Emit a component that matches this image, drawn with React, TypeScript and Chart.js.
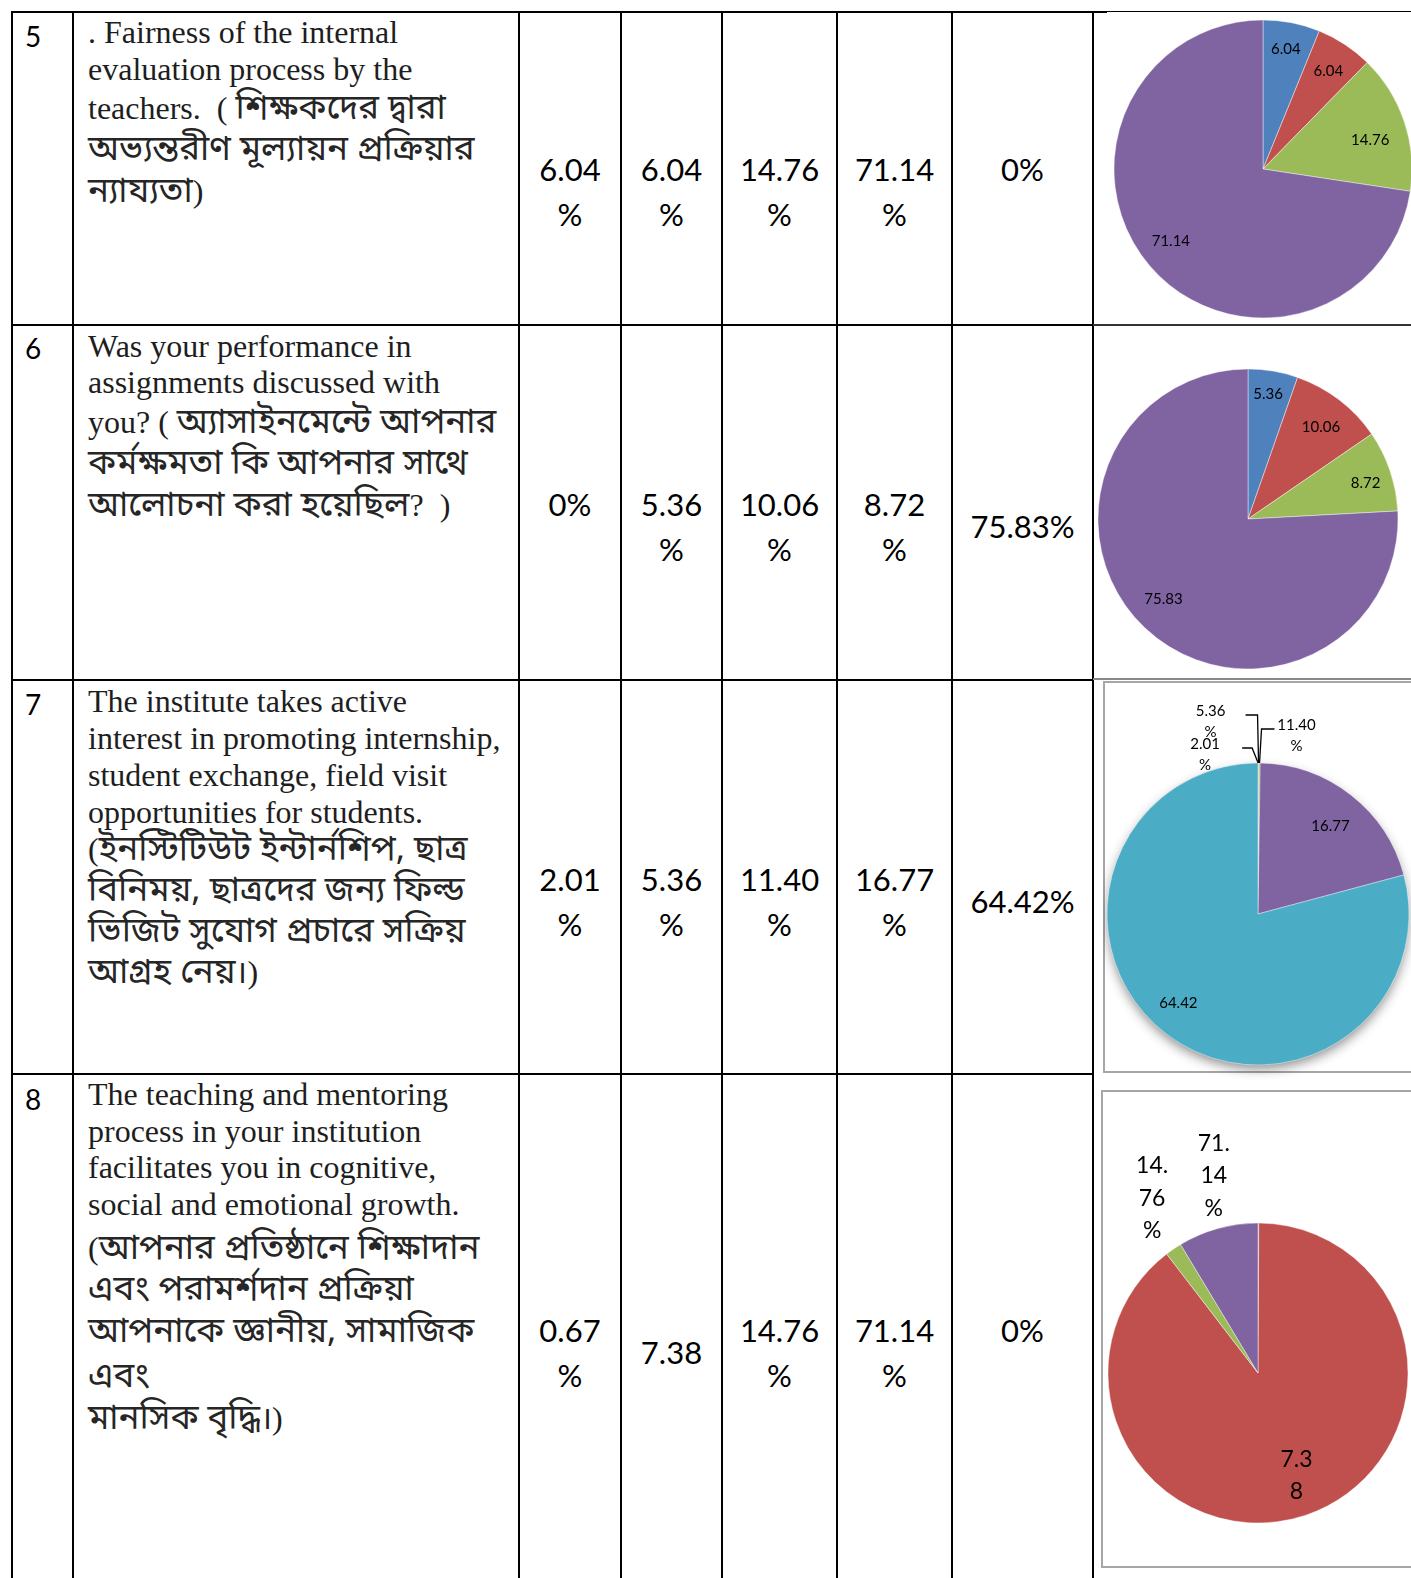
import React, { useEffect, useRef } from 'react';
import { Chart, registerables } from 'chart.js';

Chart.register(...registerables);

// ---------- DATA ----------
const rowNumbers = ['5', '6', '7', '8'];

const question5 = [
  '. Fairness of the internal',
  'evaluation process by the',
  'teachers.  ( শিক্ষকদের দ্বারা',
  'অভ্যন্তরীণ মূল্যায়ন প্রক্রিয়ার',
  'ন্যায্যতা)',
];
const question6 = [
  'Was your performance in',
  'assignments discussed with',
  'you? ( অ্যাসাইনমেন্টে আপনার',
  'কর্মক্ষমতা কি আপনার সাথে',
  'আলোচনা করা হয়েছিল?  )',
];
const question7 = [
  'The institute takes active',
  'interest in promoting internship,',
  'student exchange, field visit',
  'opportunities for students.',
  '(ইনস্টিটিউট ইন্টার্নশিপ, ছাত্র',
  'বিনিময়, ছাত্রদের জন্য ফিল্ড',
  'ভিজিট সুযোগ প্রচারে সক্রিয়',
  'আগ্রহ নেয়।)',
];
const question8 = [
  'The teaching and mentoring',
  'process in your institution',
  'facilitates you in cognitive,',
  'social and emotional growth.',
  '(আপনার প্রতিষ্ঠানে শিক্ষাদান',
  'এবং পরামর্শদান প্রক্রিয়া',
  'আপনাকে জ্ঞানীয়, সামাজিক',
  'এবং',
  'মানসিক বৃদ্ধি।)',
];

// value columns (one entry per row)
const optionA = ['6.04\n%', '0%\n ', '2.01\n%', '0.67\n%'];
const optionB = ['6.04\n%', '5.36\n%', '5.36\n%', '7.38'];
const optionC = ['14.76\n%', '10.06\n%', '11.40\n%', '14.76\n%'];
const optionD = ['71.14\n%', '8.72\n%', '16.77\n%', '71.14\n%'];
const optionE = ['0%\n ', '75.83%', '64.42%', '0%\n '];

// pie data
const pie5Values = [6.04, 6.04, 14.76, 71.14];
const pie5Labels = ['6.04', '6.04', '14.76', '71.14'];
const pie6Values = [5.36, 10.06, 8.72, 75.83];
const pie6Labels = ['5.36', '10.06', '8.72', '75.83'];
const pie7Values = [0.0201, 0.0536, 0.114, 16.77, 64.42];
const pie7Labels = ['2.01\n%', '5.36\n%', '11.40\n%', '16.77', '64.42'];
const pie8Values = [0.0067, 7.38, 0.1476, 0.7114];
const pie8Labels = ['', '7.3\n8', '14.\n76\n%', '71.\n14\n%'];

const BLUE = '#4F81BD';
const RED = '#C0504D';
const GREEN = '#9BBB59';
const PURPLE = '#8064A2';
const CYAN = '#4BACC6';

// ---------- LAYOUT ----------
const colX = [12, 73, 519, 621, 722, 837, 952, 1093];
const rowY = [12, 325, 680, 1074, 1600];
const valueCenters = [192, 527, 902, 1353];
const questionBaselines = [
  [43, 80, 119, 160, 202],
  [357, 393, 433, 474, 516],
  [712, 749, 786, 823, 860, 901, 942, 983],
  [1105, 1142, 1178, 1215, 1259, 1300, 1342, 1387, 1429],
];
const numberY = [36, 348, 704, 1099];

const BN_RE = /[\u0980-\u09FF](?:[\u0980-\u09FF\u200C\u200D,\s]*[\u0980-\u09FF])?/g;
const SERIF = '"Liberation Serif", "Times New Roman", serif';
const BENGALI = '"Noto Sans Bengali", "Noto Serif Bengali", "Lohit Bengali", "FreeSerif", sans-serif';

function splitScript(t: string) {
  const parts: { text: string; bn: boolean }[] = [];
  let last = 0;
  t.replace(BN_RE, (m: string, idx: number) => {
    if (idx > last) parts.push({ text: t.slice(last, idx), bn: false });
    parts.push({ text: m, bn: true });
    last = idx + m.length;
    return m;
  });
  if (last < t.length) parts.push({ text: t.slice(last), bn: false });
  return parts;
}

const sliceLabelPlugin = {
  id: 'sliceLabels',
  afterDatasetsDraw(chart: any, _args: any, opts: any) {
    const meta = chart.getDatasetMeta(0);
    const ctx = chart.ctx;
    const labels: string[] = opts.labels || [];
    meta.data.forEach((arc: any, i: number) => {
      const text = labels[i];
      if (!text) return;
      const p = arc.getProps(['x', 'y', 'startAngle', 'endAngle', 'outerRadius'], true);
      const mid = (p.startAngle + p.endAngle) / 2;
      const place = (opts.place && opts.place[i]) || { f: opts.factor };
      const lines = text.split('\n');
      ctx.save();
      ctx.font = opts.font;
      ctx.fillStyle = '#000';
      ctx.textAlign = 'center';
      ctx.textBaseline = 'middle';
      if (place.leader) {
        const ax = p.x + Math.cos(mid) * p.outerRadius;
        const ay = p.y + Math.sin(mid) * p.outerRadius;
        ctx.strokeStyle = '#000';
        ctx.lineWidth = 1.3;
        ctx.beginPath();
        ctx.moveTo(ax + place.hx, ay + place.hy);
        ctx.lineTo(ax + place.ex, ay + place.hy);
        ctx.lineTo(ax, ay);
        ctx.stroke();
        lines.forEach((l: string, k: number) =>
          ctx.fillText(l, ax + place.dx, ay + place.dy + k * opts.lineHeight)
        );
      } else {
        const f = place.f ?? opts.factor;
        const lx = p.x + Math.cos(mid) * p.outerRadius * f + (place.dx || 0);
        const ly = p.y + Math.sin(mid) * p.outerRadius * f + (place.dy || 0);
        const startY = ly - ((lines.length - 1) * opts.lineHeight) / 2;
        lines.forEach((l: string, k: number) => ctx.fillText(l, lx, startY + k * opts.lineHeight));
      }
      ctx.restore();
    });
  },
};

const shadowPlugin = {
  id: 'pieShadow',
  beforeDatasetsDraw(chart: any, _args: any, opts: any) {
    if (!opts || !opts.enabled) return;
    const arc = chart.getDatasetMeta(0).data[0];
    if (!arc) return;
    const p = arc.getProps(['x', 'y', 'outerRadius'], true);
    const ctx = chart.ctx;
    ctx.save();
    ctx.shadowColor = 'rgba(0,0,0,0.45)';
    ctx.shadowBlur = 12;
    ctx.shadowOffsetY = 5;
    ctx.fillStyle = opts.color;
    ctx.beginPath();
    ctx.arc(p.x, p.y, p.outerRadius - 1, 0, Math.PI * 2);
    ctx.fill();
    ctx.restore();
  },
};

type PieProps = {
  values: number[];
  colors: string[];
  labels: string[];
  cx: number;
  cy: number;
  r: number;
  w: number;
  h: number;
  font: string;
  lineHeight: number;
  factor: number;
  place?: any[];
  shadow?: string;
};

function Pie(props: PieProps) {
  const ref = useRef<HTMLCanvasElement>(null);
  useEffect(() => {
    if (!ref.current) return;
    const chart = new Chart(ref.current, {
      type: 'pie',
      data: {
        labels: props.values.map((_, i) => String(i)),
        datasets: [
          {
            data: props.values,
            backgroundColor: props.colors,
            borderColor: 'rgba(255,255,255,0.7)',
            borderWidth: 0.6,
          },
        ],
      },
      options: {
        animation: false,
        responsive: false,
        radius: props.r,
        layout: { padding: 0 },
        events: [],
        plugins: {
          legend: { display: false },
          tooltip: { enabled: false },
          sliceLabels: {
            labels: props.labels,
            font: props.font,
            lineHeight: props.lineHeight,
            factor: props.factor,
            place: props.place,
          },
          pieShadow: { enabled: !!props.shadow, color: props.shadow },
        } as any,
      } as any,
      plugins: [shadowPlugin, sliceLabelPlugin],
    });
    return () => chart.destroy();
  }, []);
  return (
    <canvas
      ref={ref}
      width={props.w}
      height={props.h}
      style={{
        position: 'absolute',
        left: props.cx - props.w / 2,
        top: props.cy - props.h / 2,
        width: props.w,
        height: props.h,
      }}
    />
  );
}

const line = (x: number, y: number, w: number, h: number, color: string, key: string) => (
  <div key={key} style={{ position: 'absolute', left: x, top: y, width: w, height: h, background: color }} />
);

export default function App() {
  useEffect(() => {
    document.body.style.overflow = 'hidden';
  }, []);

  const questions = [question5, question6, question7, question8];
  const cols = [optionA, optionB, optionC, optionD, optionE];
  const LH = 45.5;

  const els: any[] = [];
  colX.forEach((x, i) => els.push(line(x - 1, 11, 2, 1600, '#000', 'v' + i)));
  rowY.slice(0, 4).forEach((y, i) => els.push(line(11, y - 1, colX[7] - 10, 2, '#000', 'h' + i)));
  els.push(line(1093, 11, 14, 2, '#000', 'c0a'));
  els.push(line(1105, 11, 320, 1, '#000', 'c0b'));
  els.push(line(1093, 324, 320, 1.5, '#333', 'c1'));
  els.push(line(1093, 678, 320, 1.5, '#888', 'c2'));

  for (let r = 0; r < 4; r++) {
    els.push(
      <div
        key={'n' + r}
        style={{
          position: 'absolute',
          left: colX[0] + 13,
          top: numberY[r] - 18,
          fontFamily: 'Lato, "Open Sans", sans-serif',
          fontSize: 28,
          lineHeight: '36px',
          color: '#000',
        }}
      >
        {rowNumbers[r]}
      </div>
    );
    questions[r].forEach((t, k) => {
      const parts = splitScript(t);
      els.push(
        <div
          key={'q' + r + '_' + k}
          style={{
            position: 'absolute',
            left: 88,
            top: questionBaselines[r][k] - 28.8,
            height: 36,
            whiteSpace: 'pre',
            fontFamily: SERIF,
            fontSize: 32,
            lineHeight: '36px',
            color: '#1e1e1e',
          }}
        >
          {parts.map((p, j) =>
            p.bn ? (
              <span key={j} style={{ fontFamily: BENGALI, fontSize: 34.8, lineHeight: 0, color: '#262626' }}>
                {p.text}
              </span>
            ) : (
              <span key={j}>{p.text}</span>
            )
          )}
        </div>
      );
    });
    cols.forEach((col, c) => {
      const txt = col[r];
      const n = txt.split('\n').length;
      els.push(
        <div
          key={'v' + r + '_' + c}
          style={{
            position: 'absolute',
            left: colX[c + 2],
            width: colX[c + 3] - colX[c + 2],
            top: valueCenters[r] - (n * LH) / 2,
            textAlign: 'center',
            whiteSpace: 'pre',
            fontFamily: 'Lato, "Open Sans", sans-serif',
            fontSize: 31,
            lineHeight: LH + 'px',
            color: '#000',
          }}
        >
          {txt}
        </div>
      );
    });
  }

  const smallFont = '15px Lato, "Open Sans", sans-serif';

  return (
    <div
      style={{
        position: 'absolute',
        left: 0,
        top: 0,
        width: 1411,
        height: 1578,
        overflow: 'hidden',
        background: '#fff',
      }}
    >
      {els}
      <div style={{ position: 'absolute', left: 1103, top: 681, width: 320, height: 392, border: '2px solid #a6a6a6', boxSizing: 'border-box' }} />
      <div style={{ position: 'absolute', left: 1101, top: 1090, width: 320, height: 478, border: '2px solid #a6a6a6', boxSizing: 'border-box' }} />
      <Pie
        values={pie5Values}
        colors={[BLUE, RED, GREEN, PURPLE]}
        labels={pie5Labels}
        cx={1263}
        cy={169}
        r={149}
        w={338}
        h={310}
        font={smallFont}
        lineHeight={20}
        factor={0.8}
        place={[{ f: 0.8, dy: -3 }, { f: 0.8, dy: 2 }, { f: 0.78, dx: -3, dy: 8 }, { f: 0.78, dx: -4, dy: -4 }]}
      />
      <Pie
        values={pie6Values}
        colors={[BLUE, RED, GREEN, PURPLE]}
        labels={pie6Labels}
        cx={1248}
        cy={519}
        r={150}
        w={308}
        h={318}
        font={smallFont}
        lineHeight={20}
        factor={0.8}
        place={[{ f: 0.8, dy: -7 }, { f: 0.8, dy: 3 }, { f: 0.8, dx: 4, dy: 3 }, { f: 0.8, dx: -2, dy: -7 }]}
      />
      <Pie
        values={pie7Values}
        colors={[BLUE, RED, GREEN, PURPLE, CYAN]}
        labels={pie7Labels}
        cx={1258}
        cy={914}
        r={151}
        w={310}
        h={470}
        font={smallFont}
        lineHeight={21}
        factor={0.78}
        shadow={CYAN}
        place={[
          { leader: true, dx: -53, dy: -19, hx: -16, ex: -6, hy: -15 },
          { leader: true, dx: -48, dy: -52, hx: -13, ex: -1, hy: -48 },
          { leader: true, dx: 37, dy: -38, hx: 15, ex: 2, hy: -34 },
          { f: 0.76, dx: 2, dy: 3 },
          { f: 0.79, dx: -7, dy: -5 },
        ]}
      />
      <Pie
        values={pie8Values}
        colors={[BLUE, RED, GREEN, PURPLE]}
        labels={pie8Labels}
        cx={1258}
        cy={1373}
        r={150}
        w={316}
        h={540}
        font={'23px Lato, "Open Sans", sans-serif'}
        lineHeight={32.5}
        factor={0.72}
        place={[{ f: 0.7 }, { f: 0.72, dx: 4 }, { f: 1.36, dx: 9, dy: -6 }, { f: 1.35, dx: 10, dy: -2 }]}
      />
    </div>
  );
}
